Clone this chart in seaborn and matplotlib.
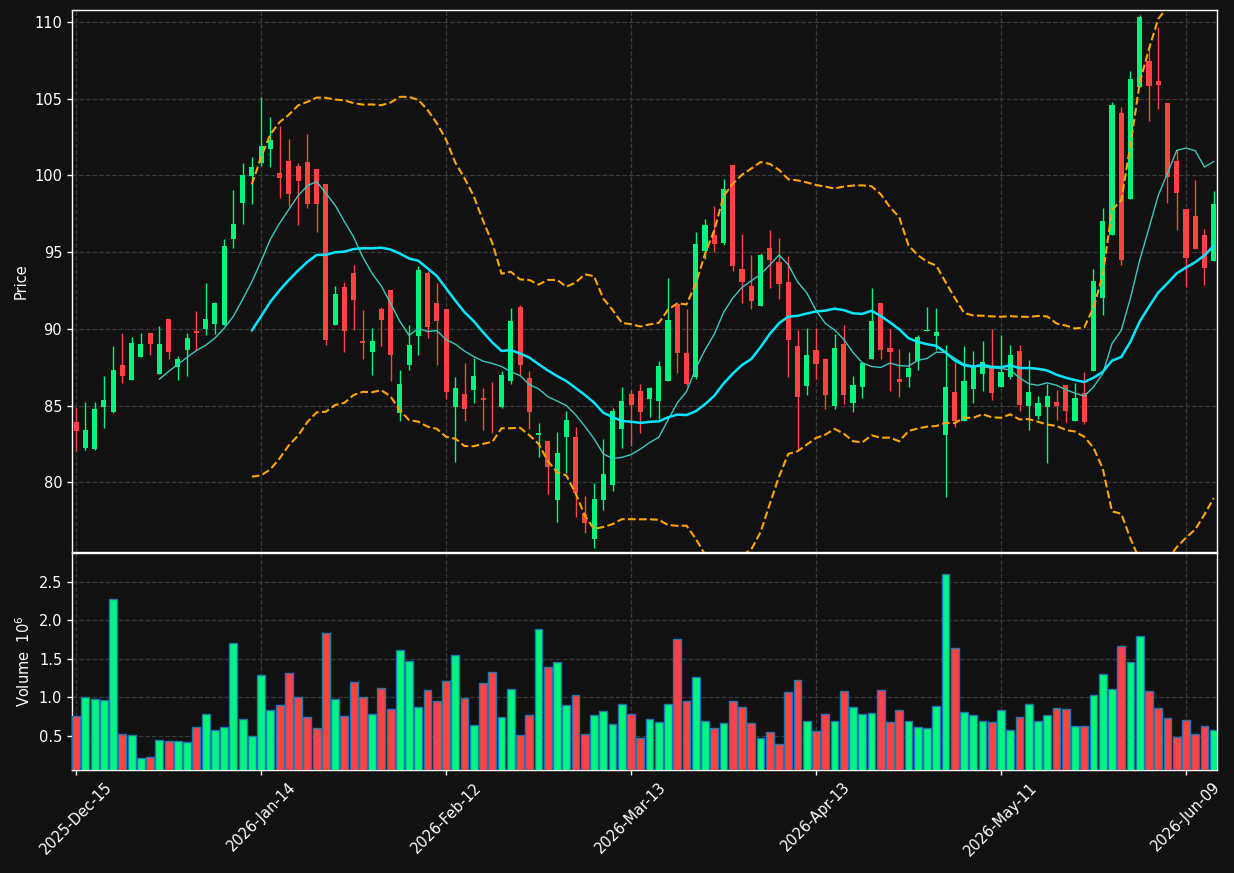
import numpy as np
import pandas as pd
import seaborn as sns
import matplotlib
matplotlib.use("Agg")
import matplotlib.pyplot as plt

# daily OHLC + volume (millions), 124 trading days from 2025-12-15
opens = [83.92, 82.25, 82.19, 84.87, 84.59, 87.62, 86.67, 88.16, 89.70, 87.06,
         90.61, 87.51, 88.61, 89.83, 89.98, 90.30, 90.28, 95.85, 98.20, 99.96,
         100.80, 101.72, 100.17, 100.91, 100.59, 100.85, 100.39, 99.41, 90.28, 92.70,
         93.61, 89.20, 88.52, 91.30, 92.54, 84.50, 87.67, 89.50, 93.65, 91.70,
         91.30, 84.93, 85.76, 86.04, 85.50, 84.93, 84.93, 86.60, 91.45, 86.82,
         83.10, 82.68, 78.81, 82.97, 82.94, 77.94, 76.28, 78.87, 79.85, 83.48,
         85.78, 85.93, 85.41, 85.30, 86.61, 91.61, 88.41, 86.87, 95.09, 96.11,
         95.61, 100.67, 93.89, 92.78, 91.50, 95.26, 94.35, 93.04, 88.91, 86.26,
         88.64, 88.01, 84.98, 89.03, 85.17, 86.21, 88.03, 91.65, 88.72, 86.71,
         86.84, 87.90, 89.85, 89.52, 83.10, 85.87, 84.00, 86.08, 87.06, 87.45,
         86.21, 86.86, 88.53, 84.98, 84.33, 84.91, 85.22, 86.32, 84.00, 85.80,
         87.22, 92.00, 96.13, 104.04, 98.48, 105.76, 107.48, 106.15, 104.72, 100.91,
         97.78, 97.33, 96.09, 94.43]
highs = [84.87, 85.26, 85.22, 86.95, 88.90, 89.74, 89.48, 89.74, 89.70, 90.19,
         90.61, 88.25, 89.74, 91.17, 92.99, 91.75, 95.87, 99.07, 100.83, 101.17,
         105.13, 103.83, 103.22, 102.39, 100.83, 102.72, 100.39, 99.41, 92.80, 93.07,
         94.17, 91.25, 90.04, 91.41, 92.54, 87.30, 90.22, 94.07, 93.80, 92.98,
         91.30, 86.85, 87.76, 88.09, 86.17, 86.52, 87.22, 91.36, 91.54, 87.27,
         83.83, 82.68, 83.25, 84.65, 83.59, 79.07, 79.98, 82.79, 84.81, 86.23,
         86.00, 86.43, 86.23, 87.89, 93.28, 91.70, 91.26, 96.28, 97.13, 97.98,
         99.74, 100.67, 96.15, 94.78, 94.91, 96.41, 95.91, 94.74, 89.91, 90.06,
         90.06, 88.10, 89.65, 90.26, 86.93, 87.86, 92.66, 91.69, 90.00, 88.70,
         88.51, 89.61, 91.43, 91.36, 88.96, 87.86, 88.90, 88.55, 89.22, 89.98,
         89.59, 88.96, 88.96, 87.99, 85.65, 86.43, 86.00, 86.32, 86.47, 87.16,
         93.91, 97.85, 104.76, 104.48, 106.78, 110.46, 108.41, 109.70, 104.72, 101.67,
         97.78, 99.67, 96.48, 98.96]
lows = [82.03, 82.08, 82.12, 83.51, 84.52, 86.47, 86.65, 88.16, 88.29, 87.06,
        88.05, 86.69, 86.95, 88.59, 89.57, 89.63, 90.28, 95.28, 96.85, 98.15,
        100.59, 100.54, 98.52, 98.00, 96.78, 97.89, 96.30, 88.96, 90.22, 88.48,
        89.93, 88.00, 87.02, 88.85, 86.59, 83.96, 87.30, 88.26, 89.37, 87.61,
        85.41, 81.30, 83.96, 85.15, 83.39, 83.24, 84.83, 86.43, 86.93, 83.44,
        81.62, 79.22, 77.40, 80.58, 77.73, 76.69, 75.71, 78.18, 79.42, 82.21,
        82.38, 83.23, 84.26, 84.15, 86.61, 87.09, 86.30, 86.74, 94.54, 94.98,
        95.48, 93.78, 91.65, 91.30, 91.50, 92.67, 91.96, 86.87, 82.10, 85.69,
        86.73, 84.74, 84.74, 85.13, 84.55, 85.52, 88.03, 88.05, 85.97, 85.56,
        86.21, 87.34, 89.85, 88.59, 79.03, 83.61, 84.00, 85.19, 85.97, 85.39,
        86.21, 86.73, 84.63, 83.38, 84.11, 81.23, 84.05, 83.90, 84.00, 83.77,
        87.22, 90.87, 96.13, 94.13, 98.48, 105.76, 103.52, 104.30, 98.20, 96.41,
        92.74, 95.22, 92.83, 94.43]
closes = [83.35, 83.40, 84.76, 85.35, 87.29, 86.93, 89.05, 88.98, 89.00, 88.98,
          88.48, 88.01, 89.37, 89.72, 90.67, 91.65, 95.43, 96.80, 100.00, 100.52,
          101.89, 102.28, 99.80, 98.78, 99.63, 98.13, 98.13, 89.24, 92.24, 89.83,
          91.85, 89.10, 89.22, 90.59, 88.26, 86.41, 88.96, 93.85, 90.15, 90.48,
          85.91, 86.15, 84.74, 86.93, 85.33, 84.87, 87.00, 90.48, 87.62, 84.59,
          83.18, 81.02, 81.90, 84.05, 79.29, 77.34, 78.92, 80.54, 84.63, 85.28,
          85.02, 84.59, 86.13, 87.57, 90.57, 88.43, 86.39, 95.52, 96.76, 95.52,
          99.11, 94.09, 93.07, 91.83, 94.80, 94.50, 92.91, 89.26, 85.56, 88.27,
          87.71, 85.67, 88.72, 85.69, 86.32, 87.75, 90.48, 88.61, 88.48, 86.54,
          87.42, 89.44, 89.94, 89.76, 86.19, 84.00, 86.58, 87.49, 87.81, 85.82,
          87.16, 88.27, 85.02, 85.87, 85.15, 85.61, 85.00, 84.65, 85.48, 83.92,
          93.09, 97.00, 104.59, 94.50, 106.28, 110.30, 105.85, 105.91, 99.91, 98.87,
          94.63, 95.22, 93.98, 98.11]
volumes = [0.76, 1.00, 0.985, 0.96, 2.28, 0.525, 0.51, 0.21, 0.23, 0.45,
           0.435, 0.435, 0.42, 0.62, 0.78, 0.58, 0.62, 1.71, 0.72, 0.50,
           1.285, 0.835, 0.90, 1.32, 1.00, 0.745, 0.60, 1.84, 0.975, 0.76,
           1.195, 1.00, 0.78, 1.12, 0.85, 1.62, 1.465, 0.87, 1.09, 0.95,
           1.21, 1.545, 0.99, 0.64, 1.18, 1.335, 0.745, 1.105, 0.51, 0.77,
           1.88, 1.39, 1.455, 0.90, 1.03, 0.525, 0.77, 0.82, 0.655, 0.91,
           0.78, 0.475, 0.72, 0.68, 0.91, 1.76, 0.95, 1.26, 0.695, 0.60,
           0.67, 0.95, 0.87, 0.67, 0.475, 0.55, 0.40, 1.065, 1.22, 0.695,
           0.565, 0.78, 0.695, 1.08, 0.87, 0.78, 0.795, 1.09, 0.68, 0.835,
           0.695, 0.615, 0.60, 0.885, 2.60, 1.633, 0.81, 0.77, 0.695, 0.68,
           0.835, 0.58, 0.745, 0.91, 0.695, 0.77, 0.86, 0.85, 0.63, 0.63,
           1.03, 1.30, 1.105, 1.66, 1.455, 1.79, 1.08, 0.86, 0.73, 0.49,
           0.705, 0.525, 0.63, 0.58]
holidays = ["2025-12-25", "2026-01-01", "2026-01-19", "2026-02-16",
            "2026-04-03", "2026-05-25", "2026-06-19"]

BG = "#111111"
UP = "#00f57f"
DOWN = "#ff4242"

df = pd.DataFrame({"open": opens, "high": highs, "low": lows,
                   "close": closes, "volume": volumes})
df["date"] = pd.bdate_range("2025-12-15", periods=len(df), freq="C", holidays=holidays)
df["idx"] = np.arange(len(df))
df["ma10"] = df.close.rolling(10).mean()
df["ma20"] = df.close.rolling(20).mean()
sd = df.close.rolling(20).std(ddof=0)
df["bb_up"] = df.ma20 + 2 * sd
df["bb_lo"] = df.ma20 - 2 * sd

sns.set_theme(style="dark")
plt.rcParams.update({
    "figure.facecolor": BG, "axes.facecolor": BG, "axes.edgecolor": "white",
    "axes.labelcolor": "white", "xtick.color": "white", "ytick.color": "white",
    "text.color": "white", "font.size": 10,
})
plt.rcParams["font.family"] = ["DejaVu Sans"]

fig = plt.figure(figsize=(12.34, 8.73), dpi=100)
ax = fig.add_axes([0.0583, 0.3677, 0.9279, 0.6208])
axv = fig.add_axes([0.0583, 0.118, 0.9279, 0.2486], sharex=ax)

up = df.close >= df.open
cols = np.where(up, UP, DOWN)

# candles
ax.vlines(df.idx, df.low, df.high, colors=cols, lw=1, zorder=2)
ax.bar(df.idx, (df.close - df.open).abs(), bottom=np.minimum(df.open, df.close),
       width=0.55, color=cols, lw=0, zorder=3)

# moving averages & bands
sns.lineplot(data=df, x="idx", y="ma10", ax=ax, color="#3cc8bd", lw=1, zorder=4)
sns.lineplot(data=df, x="idx", y="ma20", ax=ax, color="#00e8ff", lw=1.8, zorder=4)
sns.lineplot(data=df, x="idx", y="bb_up", ax=ax, color="orange", lw=1.5, ls="--", zorder=4)
sns.lineplot(data=df, x="idx", y="bb_lo", ax=ax, color="orange", lw=1.5, ls="--", zorder=4)

# volume
axv.bar(df.idx, df.volume, width=0.85, color=cols, edgecolor="#1f77b4", lw=1, zorder=3)

for a in (ax, axv):
    a.grid(True, ls="--", color="#3a3a3a", lw=0.9)
    for s in a.spines.values():
        s.set_color("white")
        s.set_linewidth(1)
    a.tick_params(axis="both", colors="white", length=3.5, width=1, labelsize=10.5,
                  bottom=True, left=True)

ax.set_xlim(-0.45, 123.35)
ax.set_ylim(75.45, 110.78)
ax.set_yticks([80, 85, 90, 95, 100, 105, 110])
ax.set_ylabel("Price", fontsize=10.5)
ax.set_xlabel("")
ax.tick_params(labelbottom=False)

axv.set_ylim(0.06, 2.87)
axv.set_yticks([0.5, 1.0, 1.5, 2.0, 2.5])
axv.set_ylabel("Volume  $10^{6}$", fontsize=10.5)
ticks = list(range(0, len(df), 20))
axv.set_xticks(ticks)
axv.set_xticklabels(df.date.iloc[ticks].dt.strftime("%Y-%b-%d"), rotation=45, ha="center")
axv.set_xlabel("")

fig.savefig("out.png", dpi=100, facecolor=BG)
